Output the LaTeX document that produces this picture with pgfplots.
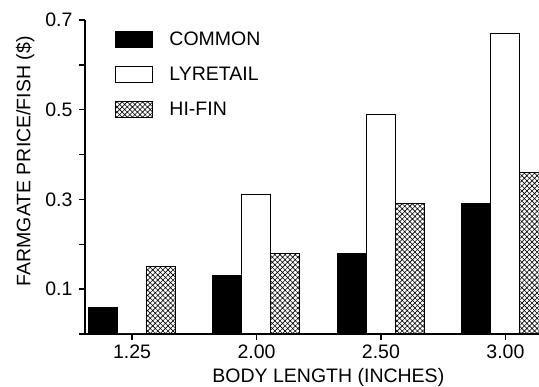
\documentclass[border=0pt]{standalone}
\usepackage{fontspec}
\setmainfont{Liberation Sans}
\usepackage{pgfplots}
\pgfplotsset{compat=1.18}
\usetikzlibrary{patterns,patterns.meta}

\begin{document}
\begin{tikzpicture}[font=\fontsize{19.5}{23}\selectfont]
\begin{axis}[
  scale only axis, width=454pt, height=314pt,
  at={(0,0)}, anchor=south west,
  xmin=-0.378, xmax=3.27, ymin=0, ymax=0.7,
  axis x line*=bottom, axis y line*=left,
  axis line style={line width=2pt},
  xtick={0,1,2,3}, xticklabels={1.25,2.00,2.50,3.00},
  ytick={0,0.1,0.2,0.3,0.4,0.5,0.6,0.7}, yticklabels={,0.1,,0.3,,0.5,,0.7},
  tick align=outside, major tick length=6pt,
  tick style={line width=1.5pt, black},
  /pgf/number format/assume math mode=true,
  yticklabel style={xshift=-3pt},
  xticklabel style={yshift=-1pt},
  xlabel={BODY LENGTH (INCHES)},
  ylabel={FARMGATE PRICE/FISH (\$)},
  xlabel style={at={(axis description cs:0.536,-0.156)}, anchor=base},
  ylabel style={at={(axis description cs:-0.132,0.55)}, anchor=center},
  legend style={at={(axis description cs:0.06,0.975)}, anchor=north west, draw=none, fill=none, row sep=16pt, column sep=14pt, font=\fontsize{19.5}{23}\selectfont},
  legend cell align=left,
  legend image code/.code={\draw[#1] (0pt,-8pt) rectangle (37pt,8pt);},
]
\addplot[ybar, bar width=0.233, bar shift=-0.233, fill=black, draw=black, line width=1pt]
  coordinates {(0,0.06) (1,0.13) (2,0.18) (3,0.29)};
\addlegendentry{COMMON}
\addplot[ybar, bar width=0.233, bar shift=0, fill=white, draw=black, line width=1pt]
  coordinates {(0,0) (1,0.31) (2,0.49) (3,0.67)};
\addlegendentry{LYRETAIL}
\addplot[ybar, bar width=0.233, bar shift=0.233, pattern={Hatch[angle=45,distance=3.6pt,line width=0.6pt]}, draw=black, line width=1pt]
  coordinates {(0,0.15) (1,0.18) (2,0.29) (3,0.36)};
\addlegendentry{HI-FIN}
\end{axis}
\pgfresetboundingbox
\path (-85pt,-53pt) rectangle (454pt,334pt);
\end{tikzpicture}
\end{document}
